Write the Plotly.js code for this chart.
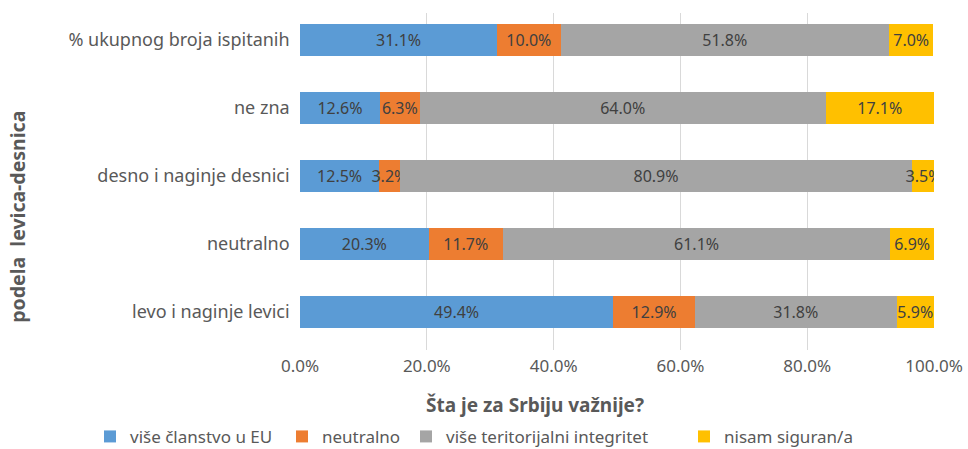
<!DOCTYPE html>
<html>
<head>
<meta charset="utf-8">
<script src="https://cdn.plot.ly/plotly-3.0.1.min.js"></script>
<style>html,body{margin:0;padding:0;background:#fff;}#chart{width:968px;height:449px;}</style>
</head>
<body>
<div id="chart"></div>
<script>
const categories = ["levo i naginje levici", "neutralno", "desno i naginje desnici", "ne zna", "% ukupnog broja ispitanih"];
const seriesNames = ["više članstvo u EU", "neutralno", "više teritorijalni integritet", "nisam siguran/a"];
const viseEU = [49.4, 20.3, 12.5, 12.6, 31.1];
const neutralno = [12.9, 11.7, 3.2, 6.3, 10.0];
const integritet = [31.8, 61.1, 80.9, 64.0, 51.8];
const nisamSiguran = [5.9, 6.9, 3.5, 17.1, 7.0];
const xTicks = [0, 20, 40, 60, 80, 100];
const xTickLabels = ["0.0%", "20.0%", "40.0%", "60.0%", "80.0%", "100.0%"];
const xTitle = "Šta je za Srbiju važnije?";
const yTitle = "podela  levica-desnica";

const colors = ["#5B9BD5", "#ED7D31", "#A5A5A5", "#FFC000"];
const seriesValues = [viseEU, neutralno, integritet, nisamSiguran];
const legendIds = ["legend", "legend2", "legend3", "legend4"];
const legendX = [90, 282, 406, 684];
const fontFam = "Noto Sans, sans-serif";

const traces = seriesValues.map((vals, i) => ({
  type: "bar",
  orientation: "h",
  name: seriesNames[i],
  legend: legendIds[i],
  y: categories,
  x: vals,
  marker: {color: colors[i]},
  text: vals.map(v => v.toFixed(1) + "%"),
  textposition: "inside",
  insidetextanchor: "middle",
  textangle: 0,
  constraintext: "none",
  textfont: {family: fontFam, size: 16, color: "#404040"},
  hoverinfo: "none"
}));

const layout = {
  width: 968, height: 449,
  margin: {l: 300, r: 34, t: 13, b: 99},
  barmode: "stack",
  bargap: 0.53,
  paper_bgcolor: "#fff",
  plot_bgcolor: "#fff",
  font: {family: fontFam, color: "#595959", size: 16},
  uniformtext: {mode: "show", minsize: 16},
  xaxis: {
    range: [0, 100],
    tickvals: xTicks,
    ticktext: xTickLabels,
    showgrid: true,
    gridcolor: "#D9D9D9",
    zeroline: false,
    showline: false,
    ticks: "",
    ticklabelstandoff: 4,
    tickfont: {size: 17, color: "#595959"},
    fixedrange: true
  },
  yaxis: {
    type: "category",
    range: [-0.56, 4.4],
    showgrid: false,
    zeroline: false,
    showline: false,
    ticks: "",
    ticksuffix: "  ",
    tickfont: {size: 18, color: "#595959"},
    fixedrange: true
  },
  annotations: [
    {text: "<b>" + xTitle + "</b>", xref: "paper", yref: "paper", x: 0.371, y: -0.163,
     xanchor: "center", yanchor: "middle", showarrow: false,
     font: {size: 19, color: "#595959", family: fontFam}},
    {text: "<b>" + yTitle + "</b>", xref: "paper", yref: "paper", x: -0.445, y: 0.395,
     xanchor: "center", yanchor: "middle", showarrow: false, textangle: -90,
     font: {size: 19.5, color: "#595959", family: fontFam}}
  ],
  showlegend: true
};

legendIds.forEach((id, i) => {
  layout[id] = {
    orientation: "h",
    x: legendX[i] / 968, xanchor: "left", xref: "container",
    y: 0.027, yanchor: "middle", yref: "container",
    font: {size: 17, color: "#595959"},
    bgcolor: "rgba(0,0,0,0)",
    itemclick: false
  };
});

Plotly.newPlot("chart", traces, layout, {displayModeBar: false, staticPlot: true});
</script>
</body>
</html>
